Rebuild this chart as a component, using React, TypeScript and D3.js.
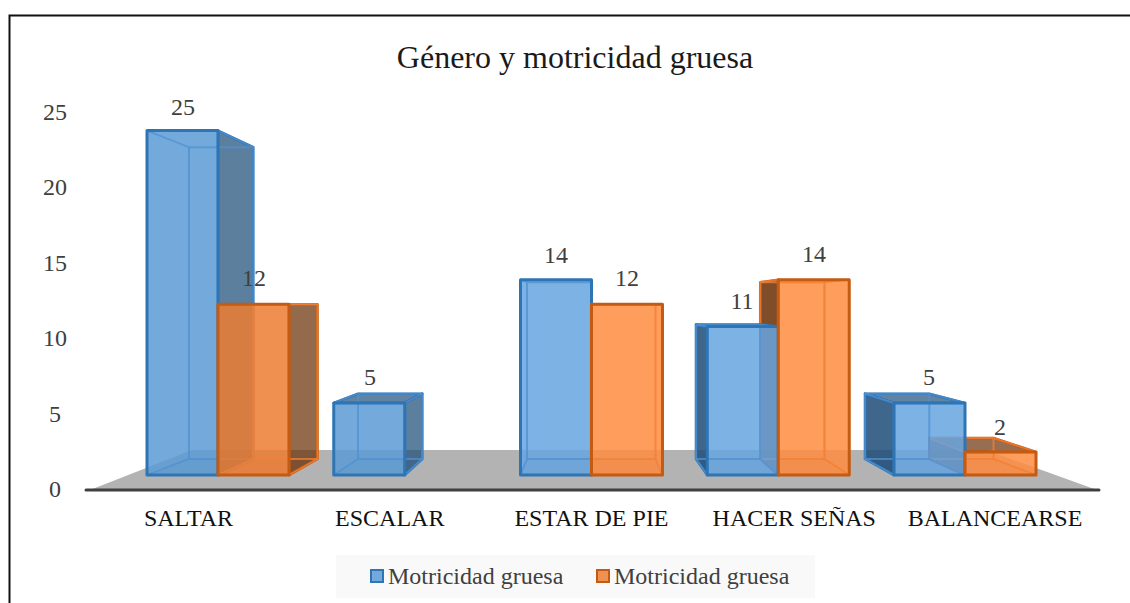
import React from "react";
import * as d3 from "d3";

const categories = ["SALTAR", "ESCALAR", "ESTAR DE PIE", "HACER SEÑAS", "BALANCEARSE"];
const seriesNames = ["Motricidad gruesa", "Motricidad gruesa"];
// data labels as printed on the chart
const labelsBlue = [25, 5, 14, 11, 5];
const labelsOrange = [12, null, 12, 14, 2];
// bar heights as drawn on the front plane (the 3D projection does not match the printed value exactly)
const heightsBlue = [24.6, 5.15, 13.95, 10.6, 5.15];
const heightsOrange = [12.2, null, 12.2, 13.95, 1.65];
const yTicks = [0, 5, 10, 15, 20, 25];

const W = 1130;
const H = 603;
const SERIF = "'Liberation Serif', 'Times New Roman', serif";

const x0 = d3.scalePoint<string>().domain(categories).range([218, 965]);
const yFront = d3.scaleLinear().domain([0, 25]).range([475, 125]);
const yAxis = d3.scaleLinear().domain([0, 25]).range([489, 112]);
const barW = 71;

// one point perspective for the back plane of each box
const K = 0.905;
const VX = 589;
const VY = 306;
const bx = (x: number) => VX * (1 - K) + K * x;
const by = (y: number) => VY * (1 - K) + K * y;

const poly = (pts: number[][]) => d3.line()(pts as [number, number][]) + "Z";

// layout nudges for text, per category
const catLabelDx = [-29.5, -15, 0, 16, 30];
const blueLabelX = [183, 370, 556, 742, 929];
const orangeLabelX = [254, 0, 627, 814, 1000];
const blueLabelDy = [-16, -18, -17, -18, -18];
const orangeLabelDy = [-18, 0, -18, -18, -17];

const blueStyle = { stroke: "#2e75b6", front: "#5b9bd5", lit: "#66a5e1", side: "#1f4e79", inner: "#4f90d0" };
const orangeStyle = { stroke: "#c55a11", front: "#ed7d31", lit: "#ff8c3f", side: "#6b3008", inner: "#f08036" };

type S = typeof blueStyle;

function corners(xl: number, v: number) {
  const xr = xl + barW;
  const yt = yFront(v);
  const yb = yFront(0);
  return {
    xr, yt, yb,
    fTL: [xl, yt], fTR: [xr, yt], fBL: [xl, yb], fBR: [xr, yb],
    bTL: [bx(xl), by(yt)], bTR: [bx(xr), by(yt)], bBL: [bx(xl), by(yb)], bBR: [bx(xr), by(yb)],
  };
}

function Inner({ xl, v, s, clip }: { xl: number; v: number; s: S; clip?: string }) {
  const { fTL, fTR, fBL, fBR, bTL, bTR, bBL, bBR } = corners(xl, v);
  return (
    <g clipPath={clip ? `url(#${clip})` : undefined}>
      <path d={poly([bTL, bTR, bBR, bBL])} fill="none" stroke={s.inner} strokeOpacity={0.75} strokeWidth={2} />
      <path d={`M${fTL}L${bTL}M${fTR}L${bTR}M${fBL}L${bBL}M${fBR}L${bBR}`} fill="none" stroke={s.inner} strokeOpacity={0.75} strokeWidth={1.8} />
    </g>
  );
}

function BoxBack({ xl, v, s }: { xl: number; v: number; s: S }) {
  const { xr, yt, fTL, fTR, fBL, fBR, bTL, bTR, bBL, bBR } = corners(xl, v);
  const showRight = bx(xr) > xr;
  const showLeft = bx(xl) < xl;
  const showTop = by(yt) < yt;
  return (
    <g strokeLinejoin="round">
      <path d={poly([bBL, bBR, fBR, fBL])} fill={s.side} fillOpacity={0.12} stroke="none" />
      {showRight && <path d={poly([fTR, bTR, bBR, fBR])} fill={s.side} fillOpacity={0.72} stroke={s.stroke} strokeWidth={2.6} />}
      {showLeft && <path d={poly([fTL, bTL, bBL, fBL])} fill={s.side} fillOpacity={0.86} stroke={s.stroke} strokeWidth={2.6} />}
      {showTop && <path d={poly([fTL, bTL, bTR, fTR])} fill={s.side} fillOpacity={0.7} stroke={s.stroke} strokeWidth={2.6} />}
    </g>
  );
}

function BoxFront({ xl, v, s, lit, clipId }: { xl: number; v: number; s: S; lit: boolean; clipId?: string }) {
  const { xr, yt, yb, fTL, fTR, fBL, fBR } = corners(xl, v);
  return (
    <g strokeLinejoin="round">
      {clipId && (
        <clipPath id={clipId}>
          <rect x={xl} y={yt} width={xr - xl} height={yb - yt} />
        </clipPath>
      )}
      <path d={poly([fTL, fTR, fBR, fBL])} fill={lit ? s.lit : s.front} fillOpacity={0.85} stroke="none" />
      <Inner xl={xl} v={v} s={s} clip={clipId} />
      <path d={poly([fTL, fTR, fBR, fBL])} fill="none" stroke={s.stroke} strokeWidth={3} />
    </g>
  );
}

export default function App() {
  const floor = poly([[192, 450], [986, 450], [1097, 490], [90, 490]]);
  const legendItems = [
    { x: 370, textX: 388, s: blueStyle },
    { x: 596, textX: 614, s: orangeStyle },
  ];
  return (
    <svg width={W} height={H} viewBox={`0 0 ${W} ${H}`} style={{ position: "absolute", left: 0, top: 0, display: "block", background: "#fff" }} fontFamily={SERIF}>
      <path d={`M9.5 ${H}V15.5H${W}`} fill="none" stroke="#111" strokeWidth={2} />
      <text x={575} y={68} textAnchor="middle" fontSize={32} fill="#1a1a1a">Género y motricidad gruesa</text>

      {yTicks.map((t) => (
        <text key={t} x={55} y={yAxis(t) + 8} textAnchor="middle" fontSize={24} fill="#404040">{t}</text>
      ))}

      <path d={floor} fill="#b3b3b3" />
      <line x1={86} x2={1099} y1={490} y2={490} stroke="#404040" strokeWidth={3} strokeLinecap="round" />

      {categories.map((c, i) => {
        const cx = x0(c)!;
        const hb = heightsBlue[i];
        const ho = heightsOrange[i];
        const lit = i >= 2;
        if (i >= 3) {
          // right of the vanishing point the orange box recedes behind the blue one
          return (
            <g key={c}>
              {ho != null && <BoxBack xl={cx} v={ho} s={orangeStyle} />}
              {ho != null && <Inner xl={cx} v={ho} s={orangeStyle} />}
              {hb != null && <BoxBack xl={cx - barW} v={hb} s={blueStyle} />}
              {hb != null && <BoxFront xl={cx - barW} v={hb} s={blueStyle} lit={lit} />}
              {ho != null && <BoxFront xl={cx} v={ho} s={orangeStyle} lit={lit} clipId={`clip-o-${i}`} />}
            </g>
          );
        }
        return (
          <g key={c}>
            {hb != null && <BoxBack xl={cx - barW} v={hb} s={blueStyle} />}
            {hb != null && <BoxFront xl={cx - barW} v={hb} s={blueStyle} lit={lit} />}
            {ho != null && <BoxBack xl={cx} v={ho} s={orangeStyle} />}
            {ho != null && <BoxFront xl={cx} v={ho} s={orangeStyle} lit={lit} />}
          </g>
        );
      })}

      {categories.map((c, i) => {
        const lb = labelsBlue[i];
        const lo = labelsOrange[i];
        return (
          <g key={c} fontSize={24} fill="#404040" textAnchor="middle">
            {lb != null && <text x={blueLabelX[i]} y={yFront(heightsBlue[i]!) + blueLabelDy[i]}>{lb}</text>}
            {lo != null && <text x={orangeLabelX[i]} y={yFront(heightsOrange[i]!) + orangeLabelDy[i]}>{lo}</text>}
          </g>
        );
      })}

      {categories.map((c, i) => (
        <text key={c} x={x0(c)! + catLabelDx[i]} y={526} textAnchor="middle" fontSize={24} fill="#111">{c}</text>
      ))}

      <rect x={336} y={555} width={479} height={43} fill="#f9f9f9" />
      {legendItems.map((it, i) => (
        <g key={i}>
          <rect x={it.x + 1} y={570} width={12} height={12} fill={it.s.front} fillOpacity={0.84} stroke={it.s.stroke} strokeWidth={2} />
          <text x={it.textX} y={584} fontSize={24} fill="#404040">{seriesNames[i]}</text>
        </g>
      ))}
    </svg>
  );
}
